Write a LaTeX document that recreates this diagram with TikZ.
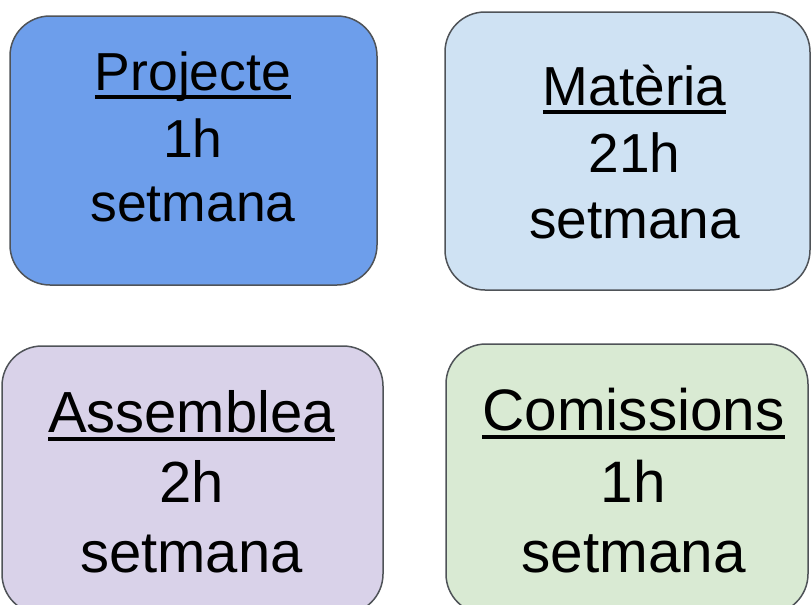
\documentclass[tikz,border=0pt]{standalone}
\usepackage{fontspec}
\setmainfont{Liberation Sans}
\definecolor{cProj}{HTML}{6D9EEB}
\definecolor{cMat}{HTML}{CFE2F3}
\definecolor{cAss}{HTML}{D9D2E9}
\definecolor{cCom}{HTML}{D9EAD3}
\definecolor{cBorder}{HTML}{4F5358}
\newcommand{\ulword}[1]{\setbox0\hbox{#1}\rlap{\rule[-8.5pt]{\wd0}{3.6pt}}\box0}
\newcommand{\fsz}[1]{\fontsize{#1}{#1}\selectfont}
\tikzset{
  boxshape/.style={draw=cBorder, line width=1.5pt, rounded corners=40pt, rectangle, inner sep=0pt},
  txt/.style={inner sep=0pt, anchor=base, text=black},
}
\begin{document}
\begin{tikzpicture}[x=1pt,y=-1pt]
\useasboundingbox (0,0) rectangle (812,605);
\clip (0,0) rectangle (812,605);
% boxes
\node[boxshape, fill=cProj, minimum width=367pt, minimum height=269pt] (bProj) at (193.5,150.5) {};
\node[boxshape, fill=cMat, minimum width=365pt, minimum height=278pt] (bMat) at (627.5,151) {};
\node[boxshape, fill=cAss, minimum width=381pt, minimum height=268pt] (bAss) at (192.5,480) {};
\node[boxshape, fill=cCom, minimum width=362pt, minimum height=270pt] (bCom) at (627,479) {};
% texts
\node[txt, font=\fsz{53.5}] (tProjA) at (193,90) {\ulword{Projecte}};
\node[txt, font=\fsz{53.5}] (tProjB) at (193,157) {1h};
\node[txt, font=\fsz{53.5}] (tProjC) at (193,221) {setmana};
\node[txt, font=\fsz{55}] (tMatA) at (634.5,105) {\ulword{Matèria}};
\node[txt, font=\fsz{55}] (tMatB) at (634.5,172) {21h};
\node[txt, font=\fsz{55}] (tMatC) at (634.5,238) {setmana};
\node[txt, font=\fsz{58}] (tAssA) at (191.5,432) {\ulword{Assemblea}};
\node[txt, font=\fsz{58}] (tAssB) at (191.5,502) {2h};
\node[txt, font=\fsz{58}] (tAssC) at (191.5,572) {setmana};
\node[txt, font=\fsz{58.5}] (tComA) at (633.5,430) {\ulword{Comissions}};
\node[txt, font=\fsz{58.5}] (tComB) at (633.5,502) {1h};
\node[txt, font=\fsz{58.5}] (tComC) at (633.5,572) {setmana};
\end{tikzpicture}
\end{document}
